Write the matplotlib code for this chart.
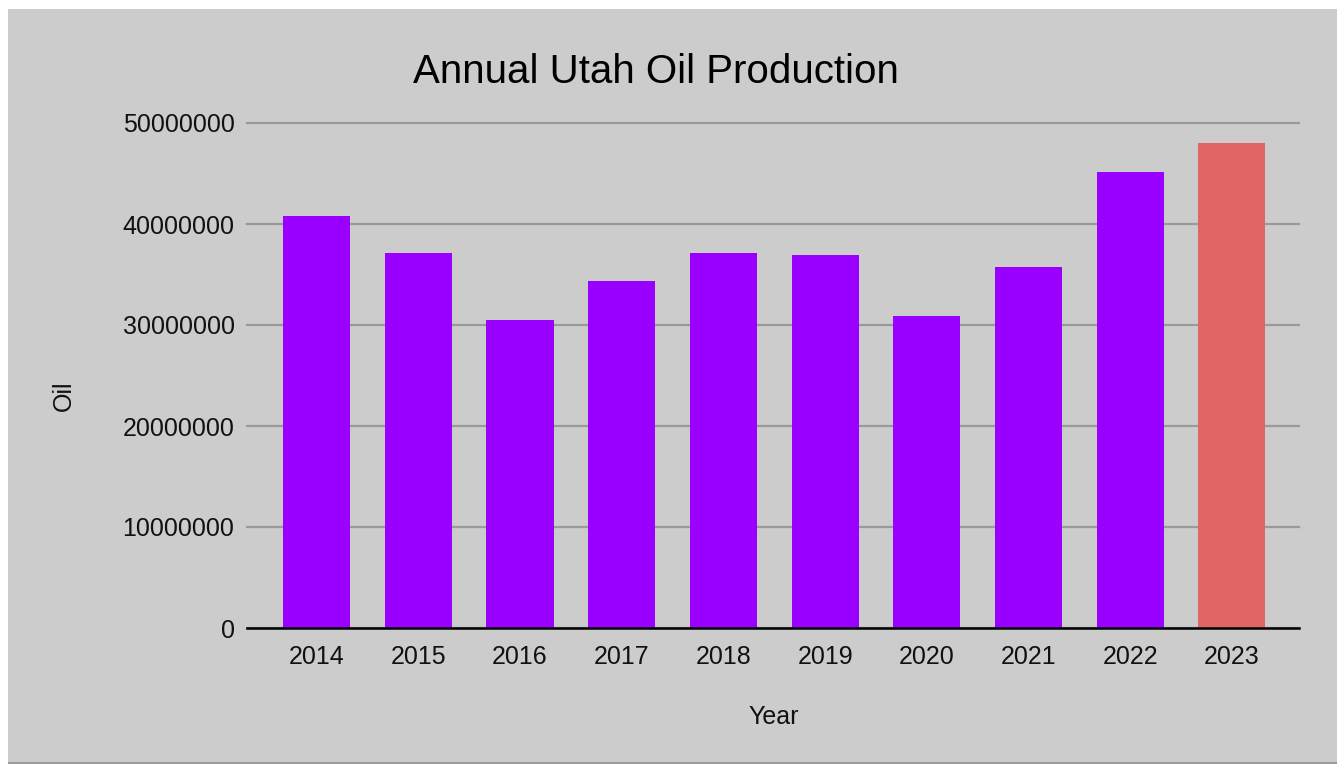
import matplotlib
matplotlib.use("Agg")
import matplotlib.pyplot as plt
from matplotlib.patches import Rectangle

# data
years = ["2014", "2015", "2016", "2017", "2018", "2019", "2020", "2021", "2022", "2023"]
oil = [40800000, 37100000, 30500000, 34400000, 37100000, 36900000, 30900000, 35700000, 45100000, 48000000]
colors = ["#9900ff"] * 9 + ["#e06666"]
yticks = [0, 10000000, 20000000, 30000000, 40000000, 50000000]

plt.rcParams['font.family'] = ['Liberation Sans', 'DejaVu Sans']

W, H = 1337, 764
fig = plt.figure(figsize=(W / 100, H / 100), dpi=100)
fig.patch.set_facecolor("white")

# grey card with a thin shadow at the bottom
fig.patches.append(Rectangle((8 / W, 0), 1 - 8 / W, 2.5 / H, transform=fig.transFigure,
                             facecolor="#9a9a9a", edgecolor="none", zorder=-2))
fig.patches.append(Rectangle((8 / W, 2.5 / H), 1 - 8 / W, 1 - 9 / H - 2.5 / H,
                             transform=fig.transFigure, facecolor="#cccccc",
                             edgecolor="none", zorder=-2))

ax = fig.add_axes([247 / W, 1 - 628 / H, (1299 - 247) / W, (628 - 123) / H])
ax.set_facecolor("none")

x = list(range(len(years)))
ax.bar(x, oil, width=0.66, color=colors, zorder=3)

ax.set_xlim(-0.685, 9.66)
ax.set_ylim(0, 50000000)
ax.set_yticks(yticks)
ax.set_yticklabels([str(v) for v in yticks])
ax.set_xticks(x)
ax.set_xticklabels(years)
ax.tick_params(axis="both", length=0, labelsize=18, colors="#111111")
ax.tick_params(axis="y", pad=9)
ax.tick_params(axis="x", pad=12)

ax.grid(axis="y", color="#9a9a9a", linewidth=1.6, zorder=1)
for gl in ax.get_ygridlines():
    gl.set_clip_on(False)
ax.set_axisbelow(True)
for s in ["top", "right", "left"]:
    ax.spines[s].set_visible(False)
ax.spines["bottom"].set_color("black")
ax.spines["bottom"].set_linewidth(1.8)
ax.spines["bottom"].set_zorder(4)

fig.text(656 / W, 1 - 83 / H, "Annual Utah Oil Production", ha="center", va="baseline",
         fontsize=29, color="black")
fig.text(774 / W, 1 - 724 / H, "Year", ha="center", va="baseline", fontsize=18, color="#111111")
fig.text(64 / W, 1 - 396 / H, "Oil", ha="center", va="center", rotation=90,
         fontsize=18, color="#111111")

fig.savefig("out.png", dpi=100)
